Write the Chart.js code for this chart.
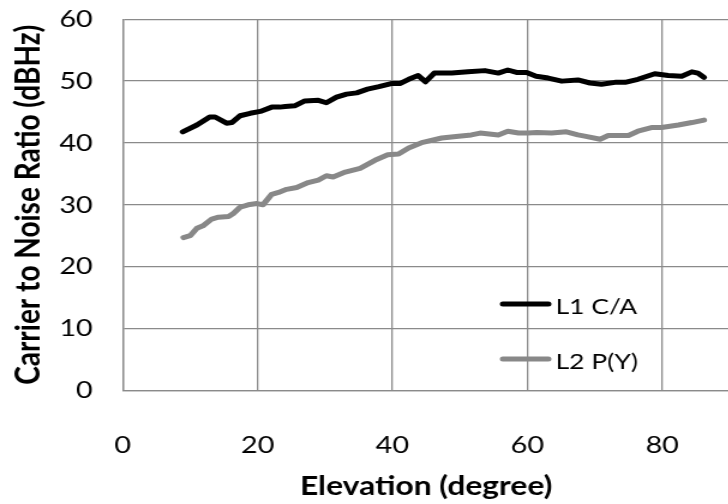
<!DOCTYPE html>
<html>
<head>
<meta charset="utf-8">
<title>Carrier to Noise Ratio vs Elevation</title>
<script src="https://cdn.jsdelivr.net/npm/chart.js@4.4.1/dist/chart.umd.min.js"></script>
<style>
    html, body { margin: 0; padding: 0; background: #ffffff; overflow: hidden; }
    #wrap { width: 728px; height: 504px; overflow: hidden; }
    /* the reference picture is stretched sideways, so is this one */
    #stretch { width: 608px; height: 504px; transform: scaleX(1.2); transform-origin: 0 0; }
</style>
</head>
<body>
<div id="wrap"><div id="stretch"><canvas id="cnrChart" width="608" height="504"></canvas></div></div>
<script>
const LINE_CHART = 'line';
const SERIES_LABELS = ['L1 C/A', 'L2 P(Y)'];
const SERIES_COLORS = ['#000000', '#888888'];
const X_TICKS = [0, 20, 40, 60, 80];
const Y_TICKS = [0, 10, 20, 30, 40, 50, 60];

// L1 C/A, elevation (degree) and C/N0 (dBHz)
const L1_ELEVATION = [8.9, 11.0, 12.9, 13.7, 15.4, 16.2, 17.4, 18.9, 20.4, 22.1, 23.3, 24.1, 25.5, 27.0, 29.0, 30.2, 31.7, 33.2, 34.7, 36.3, 38.0, 39.8, 41.1, 42.4, 43.8, 44.9, 46.2, 48.8, 51.2, 53.7, 55.7, 57.1, 58.4, 59.9, 61.3, 63.1, 65.1, 67.5, 69.3, 71.0, 73.0, 74.5, 76.4, 78.9, 80.9, 82.9, 84.4, 85.3, 86.2];
const L1_CNR = [41.8, 42.9, 44.2, 44.2, 43.2, 43.3, 44.4, 44.8, 45.1, 45.8, 45.8, 45.9, 46.0, 46.8, 46.9, 46.5, 47.4, 47.9, 48.1, 48.7, 49.1, 49.6, 49.6, 50.3, 50.9, 49.9, 51.3, 51.3, 51.5, 51.7, 51.3, 51.8, 51.4, 51.4, 50.8, 50.5, 50.0, 50.2, 49.7, 49.5, 49.8, 49.8, 50.3, 51.2, 50.9, 50.8, 51.5, 51.3, 50.6];

// L2 P(Y)
const L2_ELEVATION = [9.0, 10.0, 11.0, 11.9, 13.2, 14.2, 15.7, 16.4, 17.4, 18.6, 19.9, 20.8, 22.1, 23.1, 24.3, 25.8, 27.5, 29.0, 30.2, 31.2, 33.0, 35.2, 37.4, 39.3, 40.9, 42.4, 44.5, 47.3, 49.8, 51.7, 53.0, 55.7, 57.1, 58.7, 60.1, 61.4, 63.6, 65.8, 67.5, 68.5, 70.8, 72.0, 75.0, 76.4, 78.4, 79.9, 82.4, 84.4, 86.2];
const L2_CNR = [24.7, 25.0, 26.2, 26.6, 27.7, 28.0, 28.1, 28.6, 29.6, 30.0, 30.2, 30.0, 31.7, 32.0, 32.5, 32.8, 33.6, 34.0, 34.7, 34.5, 35.3, 35.9, 37.2, 38.1, 38.2, 39.2, 40.1, 40.8, 41.1, 41.3, 41.6, 41.3, 41.9, 41.6, 41.6, 41.7, 41.6, 41.8, 41.3, 41.1, 40.6, 41.2, 41.2, 41.9, 42.5, 42.5, 42.9, 43.3, 43.7];

const FONT_FAMILY = 'Lato, "Open Sans", sans-serif';
const GRID_COLOR = '#8a8a8a';

// legend sits inside the plot, bottom right
const insideLegend = {
    id: 'insideLegend',
    afterDatasetsDraw: function(chart) {
        const ctx = chart.ctx;
        const aRows = [304, 359];
        ctx.save();
        ctx.font = '22px ' + FONT_FAMILY;
        ctx.textBaseline = 'middle';
        ctx.textAlign = 'left';
        ctx.fillStyle = '#000000';
        chart.data.datasets.forEach(function(oSet, i) {
            ctx.strokeStyle = oSet.borderColor;
            ctx.lineWidth = 5;
            ctx.lineCap = 'round';
            ctx.beginPath();
            ctx.moveTo(419, aRows[i]);
            ctx.lineTo(457, aRows[i]);
            ctx.stroke();
            ctx.fillText(oSet.label, 463, aRows[i] + 3);
        });
        ctx.restore();
    }
};

let oChart = {
    init: function() {
        this.cacheDom();
        this.drawChart();
    },
    cacheDom: function() {
        this.oCanvas = document.getElementById('cnrChart').getContext('2d');
    },
    /**
     * Pairs elevation and C/N0 values into points
     */
    buildPoints: function(aX, aY) {
        return aX.map(function(x, i) {
            return { x: x, y: aY[i] };
        });
    },
    buildDataset: function(i, aX, aY) {
        return {
            label: SERIES_LABELS[i],
            data: this.buildPoints(aX, aY),
            borderColor: SERIES_COLORS[i],
            backgroundColor: SERIES_COLORS[i],
            borderWidth: 5,
            pointRadius: 0,
            tension: 0,
            borderJoinStyle: 'round',
            borderCapStyle: 'round',
            fill: false
        };
    },
    drawChart: function() {
        const oTickFont = { family: FONT_FAMILY, size: 24 };

        return new Chart(this.oCanvas, {
            type: LINE_CHART,
            data: {
                datasets: [
                    this.buildDataset(0, L1_ELEVATION, L1_CNR),
                    this.buildDataset(1, L2_ELEVATION, L2_CNR)
                ]
            },
            options: {
                responsive: false,
                animation: false,
                layout: { autoPadding: false, padding: { left: 0, top: 19.3, right: 0, bottom: 0 } },
                plugins: {
                    legend: { display: false },
                    tooltip: { enabled: false }
                },
                scales: {
                    x: {
                        type: 'linear',
                        min: 0,
                        max: 90,
                        afterBuildTicks: function(oScale) {
                            oScale.ticks = X_TICKS.map(function(v) { return { value: v }; });
                        },
                        afterFit: function(oScale) {
                            oScale.height = 113.7;
                            oScale.paddingLeft = 0;
                            oScale.paddingRight = 0;
                        },
                        ticks: { font: oTickFont, color: '#000000', padding: 40.7, maxRotation: 0 },
                        grid: { color: GRID_COLOR, lineWidth: 1.3, drawTicks: false },
                        border: { color: GRID_COLOR, width: 1.3 },
                        title: {
                            display: true,
                            text: 'Elevation (degree)',
                            font: { family: FONT_FAMILY, size: 26.5, weight: 'bold' },
                            color: '#000000',
                            padding: { top: 0, bottom: 1.3 }
                        }
                    },
                    y: {
                        min: 0,
                        max: 60,
                        afterBuildTicks: function(oScale) {
                            oScale.ticks = Y_TICKS.map(function(v) { return { value: v }; });
                        },
                        afterFit: function(oScale) {
                            oScale.width = 102.25;
                            oScale.paddingTop = 0;
                            oScale.paddingBottom = 0;
                        },
                        ticks: { font: oTickFont, color: '#000000', padding: 25 },
                        grid: { color: GRID_COLOR, lineWidth: 1.3, drawTicks: false },
                        border: { color: GRID_COLOR, width: 1.3 },
                        title: {
                            display: true,
                            text: 'Carrier to Noise Ratio (dBHz)',
                            font: { family: FONT_FAMILY, size: 28, weight: 'bold' },
                            color: '#000000',
                            padding: { top: 7.4, bottom: 0 }
                        }
                    }
                }
            },
            plugins: [insideLegend]
        });
    }
};

oChart.init();
</script>
</body>
</html>
